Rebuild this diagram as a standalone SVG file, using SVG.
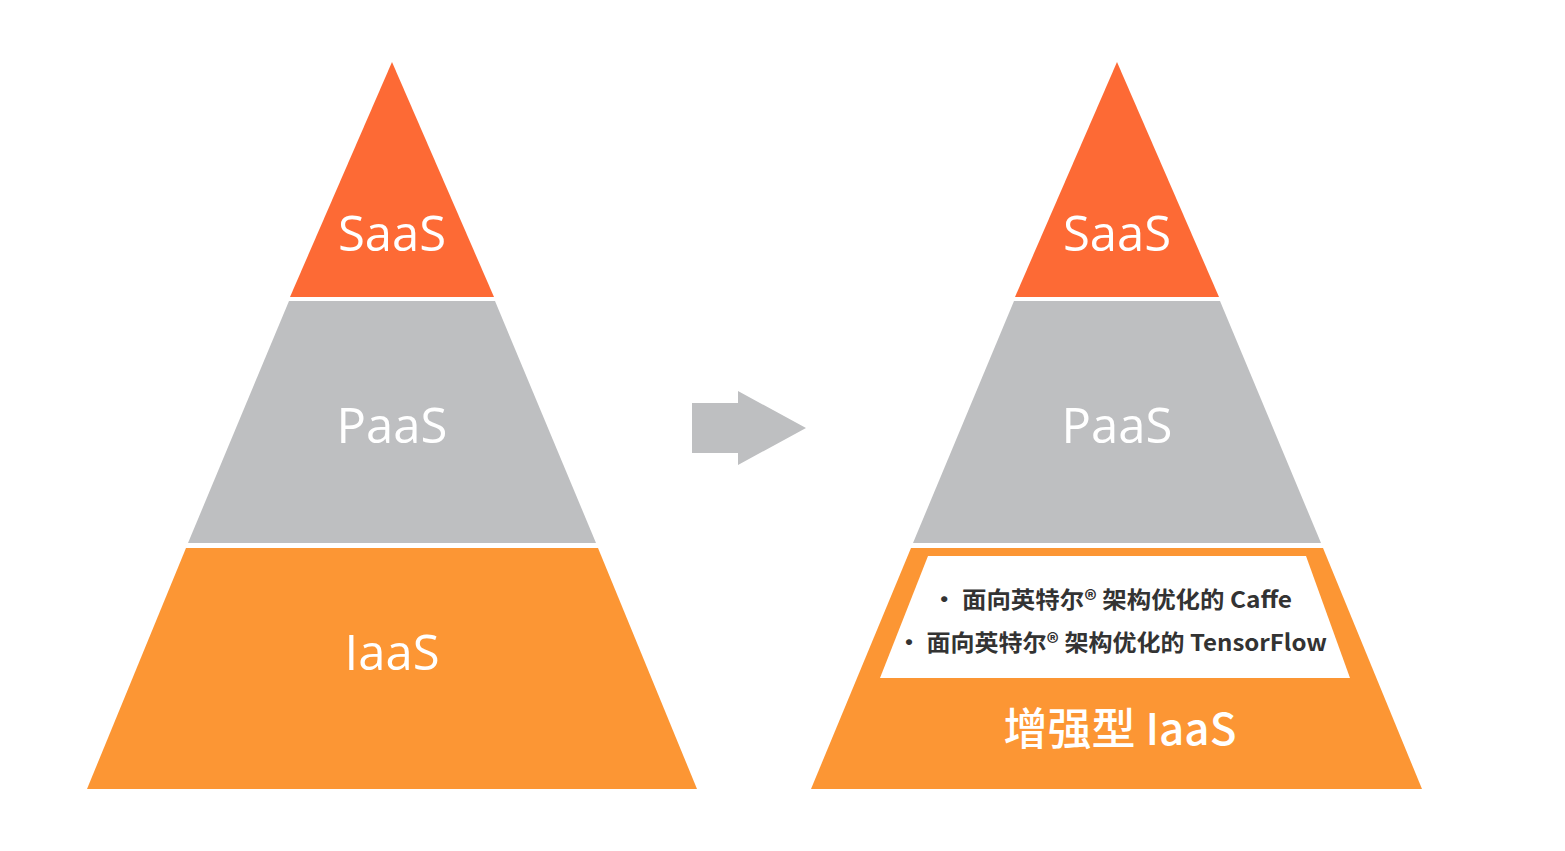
<svg xmlns="http://www.w3.org/2000/svg" width="1565" height="851" viewBox="0 0 1565 851">
<style>
.lbl{font-family:"Open Sans","Noto Sans","Noto Sans CJK SC",sans-serif;fill:#fff;font-size:49px;text-anchor:middle}
.s{fill:#FD6A35}.p{fill:#BEBFC1}.i{fill:#FC9634}
.t{font-family:"Noto Sans CJK SC",sans-serif;font-size:23px;font-weight:bold;fill:#333;text-anchor:middle}
</style>
<rect width="1565" height="851" fill="#fff"/>
<g id="left-pyramid">
<g id="left-saas"><polygon class="s" points="392,62 494,297 290,297"/><text class="lbl" x="392" y="251">SaaS</text></g>
<g id="left-paas"><polygon class="p" points="289,301 495,301 596,543 188,543"/><text class="lbl" x="392" y="443">PaaS</text></g>
<g id="left-iaas"><polygon class="i" points="186,548 598,548 697,789 87,789"/><text class="lbl" x="392" y="670">IaaS</text></g>
</g>
<g id="connectors">
<polygon fill="#BEBFC1" points="692,403 738,403 738,391 806,428 738,465 738,453 692,453"/>
</g>
<g id="right-pyramid">
<g id="right-saas"><polygon class="s" points="1117,62 1219,297 1015,297"/><text class="lbl" x="1117" y="251">SaaS</text></g>
<g id="right-paas"><polygon class="p" points="1014,301 1220,301 1321,543 913,543"/><text class="lbl" x="1117" y="443">PaaS</text></g>
<g id="right-iaas"><polygon class="i" points="911,548 1323,548 1422,789 811,789"/>
<polygon fill="#fff" points="928,556 1306,556 1350,678 880,678"/>
<text class="t" x="1112" y="608" textLength="360" lengthAdjust="spacingAndGlyphs">• 面向英特尔® 架构优化的 Caffe</text>
<text class="t" x="1112" y="651" textLength="430" lengthAdjust="spacingAndGlyphs">• 面向英特尔® 架构优化的 TensorFlow</text>
<text class="lbl" x="1120" y="745" style="font-family:'Noto Sans CJK SC','Open Sans',sans-serif;font-weight:500;font-size:44px">增强型 IaaS</text>
</g>
</g>
</svg>
